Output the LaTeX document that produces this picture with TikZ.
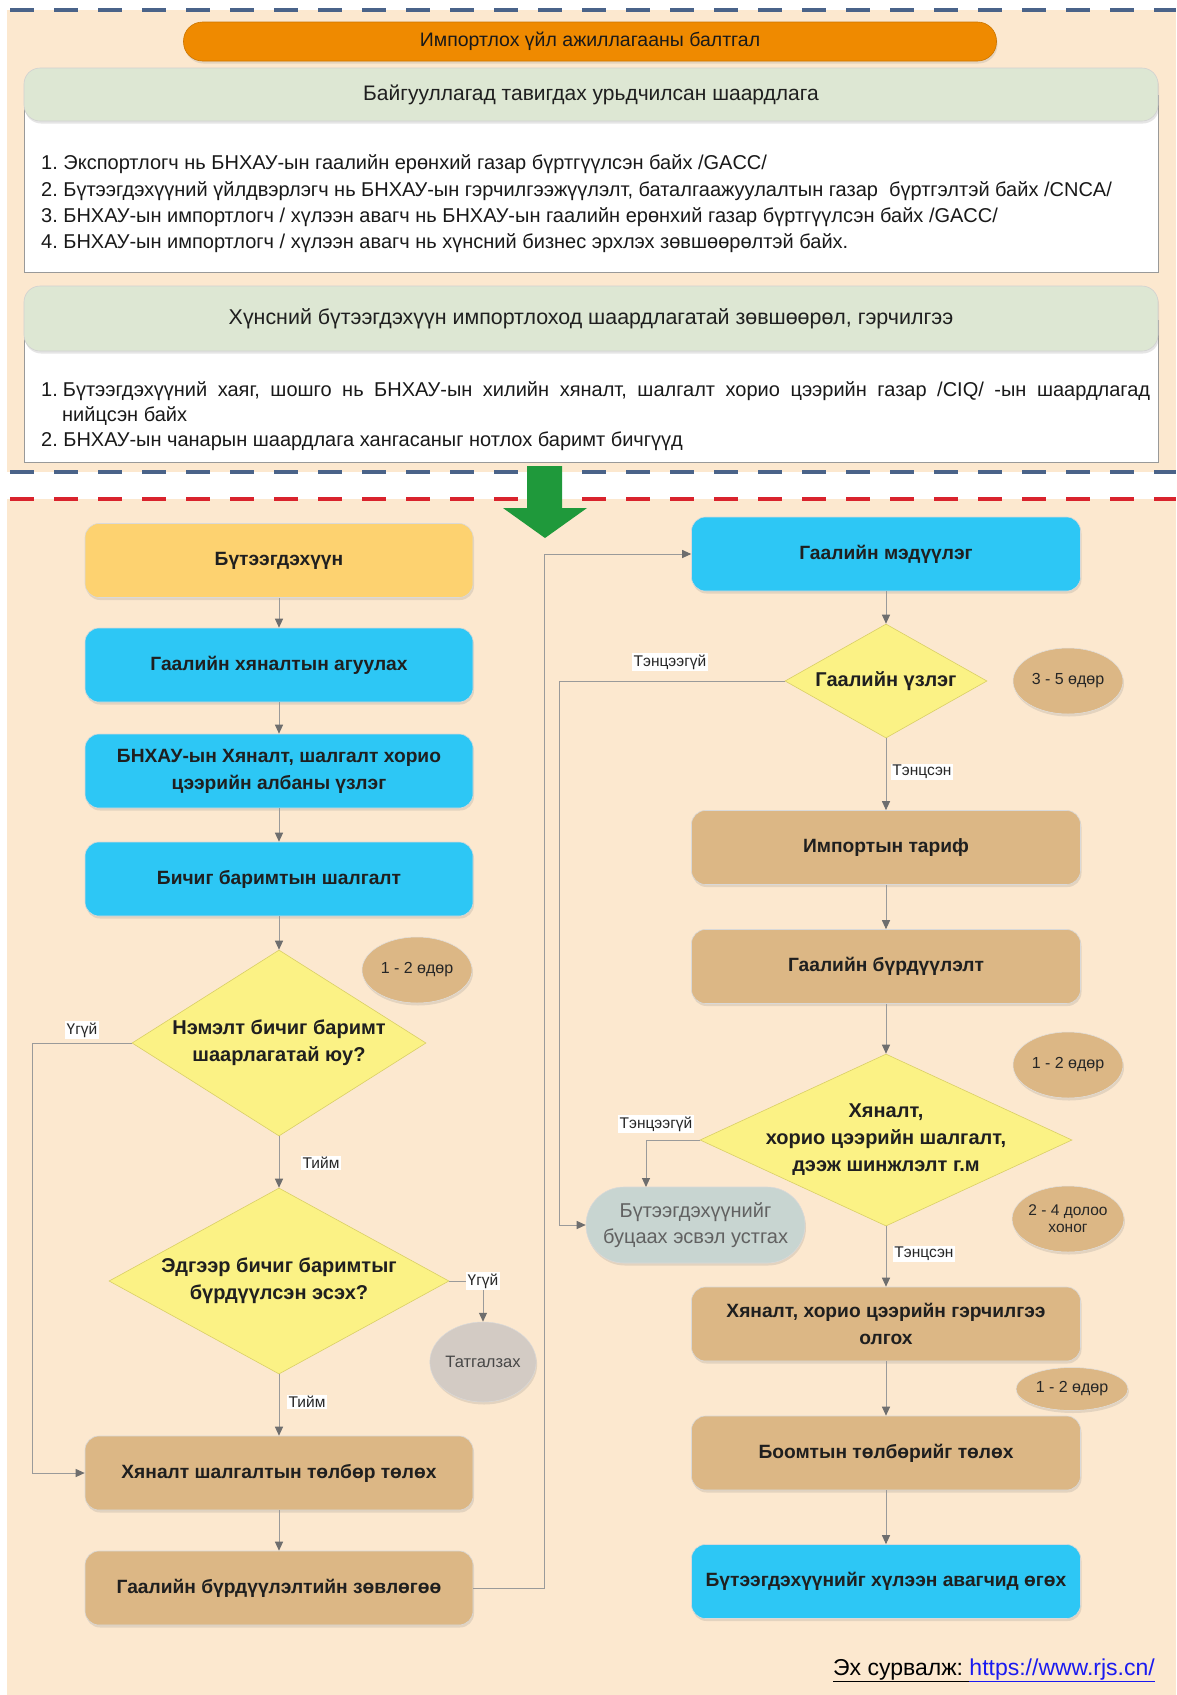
\documentclass[tikz,border=0pt]{standalone}
\usepackage{fontspec}
\setmainfont{Liberation Sans}
\usetikzlibrary{shapes.geometric,shadows,arrows.meta}
\frenchspacing
\definecolor{cpeach}{HTML}{FCE8CF}
\definecolor{corange}{HTML}{EF8A00}
\definecolor{cgreenh}{HTML}{DDE7D3}
\definecolor{cyel}{HTML}{FDD270}
\definecolor{cblue}{HTML}{2DC7F5}
\definecolor{ctan}{HTML}{DCB785}
\definecolor{cdia}{HTML}{FBF285}
\definecolor{cdiaB}{HTML}{D9CF66}
\definecolor{cret}{HTML}{C8D5D1}
\definecolor{ctat}{HTML}{D3CBC4}
\definecolor{cline}{HTML}{9A9A9A}
\definecolor{ctip}{HTML}{6E6E6E}
\definecolor{cdblue}{HTML}{4A6389}
\definecolor{cdred}{HTML}{D9232D}
\definecolor{carrow}{HTML}{1F993B}
\definecolor{clink}{HTML}{1A1AF0}
\newcommand\bxfont{\fontsize{19.2}{27}\selectfont\bfseries}
\newcommand\dfont{\fontsize{20}{27}\selectfont\bfseries}
\newcommand\lsfont{\fontsize{20}{24}\selectfont}
\newcommand\hdfont{\fontsize{21}{24}\selectfont}
\newcommand\ttlfont{\fontsize{19.5}{22}\selectfont}
\newcommand\ovfont{\fontsize{16}{18}\selectfont}
\newcommand\lbfont{\fontsize{15.5}{17}\selectfont}
\newcommand\ftfont{\fontsize{23}{26}\selectfont}
\begin{document}
\begin{tikzpicture}[x=1pt,y=-1pt,
  shd/.style={drop shadow={opacity=0.2,shadow xshift=1pt,shadow yshift=-2.5pt}},
  box/.style={rectangle,rounded corners=14pt,minimum width=388pt,minimum height=74pt,
    align=center,font=\bxfont,draw=black!15,line width=0.6pt,shd,text=black!88},
  bluebox/.style={box,fill=cblue},
  tanbox/.style={box,fill=ctan},
  yelbox/.style={box,fill=cyel},
  dia/.style={diamond,fill=cdia,draw=cdiaB,line width=0.6pt,inner sep=0pt},
  dtext/.style={align=center,font=\dfont,text=black!88},
  oval/.style={ellipse,fill=ctan,draw=black!12,line width=0.5pt,inner sep=0pt,
    font=\ovfont,align=center,shd,minimum width=110pt,minimum height=66pt,text=black!85},
  con/.style={draw=cline,line width=1pt,-{Triangle[length=9pt,width=8pt,color=ctip]}},
  lbl/.style={fill=white,inner sep=1.5pt,font=\lbfont,text=black!85},
  hdr/.style={rectangle,rounded corners=16pt,fill=cgreenh,draw=black!18,line width=0.6pt,
    minimum width=1134pt,minimum height=53pt,font=\hdfont,shd,text=black!88},
  wbox/.style={rectangle,fill=white,draw=black!40,line width=0.8pt,minimum width=1134pt},
  lst/.style={anchor=base west,font=\lsfont,inner sep=0pt,text=black!90}
]
\useasboundingbox (0,0) rectangle (1176,1695);
% backgrounds
\fill[white] (0,0) rectangle (1176,1695);
\fill[cpeach] (7,10) rectangle (1176,472);
\fill[cpeach] (7,499) rectangle (1176,1695);
% dashed separators
\draw[cdblue,line width=3.5pt,dash pattern=on 24pt off 20pt] (10,10) -- (1176,10);
\draw[cdblue,line width=3.5pt,dash pattern=on 24pt off 20pt] (10,472) -- (1176,472);
\draw[cdred,line width=3.5pt,dash pattern=on 24pt off 20pt] (10,499) -- (1176,499);

% top section
\node[rectangle,rounded corners=19pt,fill=corange,draw=corange!85!black,line width=0.6pt,
  minimum width=813pt,minimum height=39pt,font=\ttlfont,shd,text=black!90] (title) at (590,41.5)
  {Импортлох үйл ажиллагааны балтгал};

\node[wbox,minimum height=177pt] (wb1) at (591,183.5) {};
\node[hdr] (h1) at (591,94.5) {Байгууллагад тавигдах урьдчилсан шаардлага};
\node[lst] (l11) at (41,169) {1. Экспортлогч нь БНХАУ-ын гаалийн ерөнхий газар бүртгүүлсэн байх /GACC/};
\node[lst] (l12) at (41,196) {2. Бүтээгдэхүүний үйлдвэрлэгч нь БНХАУ-ын гэрчилгээжүүлэлт, баталгаажуулалтын газар\ \ бүртгэлтэй байх /CNCA/};
\node[lst] (l13) at (41,222) {3. БНХАУ-ын импортлогч / хүлээн авагч нь БНХАУ-ын гаалийн ерөнхий газар бүртгүүлсэн байх /GACC/};
\node[lst] (l14) at (41,248) {4. БНХАУ-ын импортлогч / хүлээн авагч нь хүнсний бизнес эрхлэх зөвшөөрөлтэй байх.};

\node[wbox,minimum height=142pt] (wb2) at (591,391) {};
\node[hdr,minimum height=65pt,font=\fontsize{21.4}{24}\selectfont] (h2) at (591,318.5) {Хүнсний бүтээгдэхүүн импортлоход шаардлагатай зөвшөөрөл, гэрчилгээ};
\node[lst] (l21) at (41,396) {\makebox[1109pt][s]{1.\kern5pt Бүтээгдэхүүний хаяг, шошго нь БНХАУ-ын хилийн хяналт, шалгалт хорио цээрийн газар /CIQ/ -ын шаардлагад}};
\node[lst] (l21b) at (62,421) {нийцсэн байх};
\node[lst] (l22) at (41,446) {2. БНХАУ-ын чанарын шаардлага хангасаныг нотлох баримт бичгүүд};

% green arrow
\fill[carrow] (527,466) -- (562,466) -- (562,508) -- (587,508) -- (545,538) -- (503,508) -- (527,508) -- cycle;

% left column
\node[yelbox] (b1) at (279,560.5) {Бүтээгдэхүүн};
\node[bluebox] (b2) at (279,665) {Гаалийн хяналтын агуулах};
\node[bluebox] (b3) at (279,771) {БНХАУ-ын Хяналт, шалгалт хорио\\цээрийн албаны үзлэг};
\node[bluebox] (b4) at (279,879) {Бичиг баримтын шалгалт};
\node[dia,minimum width=294pt,minimum height=186pt] (d1) at (279,1043) {};
\node[dtext] (d1t) at (d1) {Нэмэлт бичиг баримт\\шаарлагатай юу?};
\node[oval] (o1) at (417,970) {1 - 2 өдөр};
\node[dia,minimum width=340pt,minimum height=186pt] (d2) at (279,1281) {};
\node[dtext] (d2t) at (d2) {Эдгээр бичиг баримтыг\\бүрдүүлсэн эсэх?};
\node[ellipse,fill=ctat,draw=black!15,line width=0.5pt,inner sep=0pt,minimum width=95pt,
  minimum height=80pt,font=\fontsize{16.5}{18}\selectfont,text=black!72,shd] (tat) at (483,1362) {Татгалзах};
\node[tanbox] (b5) at (279,1473) {Хяналт шалгалтын төлбөр төлөх};
\node[tanbox] (b6) at (279,1588) {Гаалийн бүрдүүлэлтийн зөвлөгөө};

% right column
\node[bluebox,minimum width=389pt] (r1) at (886,554) {Гаалийн мэдүүлэг};
\node[dia,minimum width=202pt,minimum height=114pt] (rd1) at (886,681) {};
\node[dtext] (rd1t) at (rd1) {Гаалийн үзлэг};
\node[oval] (o2) at (1068,681) {3 - 5 өдөр};
\node[tanbox,minimum width=389pt] (r2) at (886,847.5) {Импортын тариф};
\node[tanbox,minimum width=389pt] (r3) at (886,966.5) {Гаалийн бүрдүүлэлт};
\node[oval] (o3) at (1068,1065) {1 - 2 өдөр};
\node[dia,minimum width=372pt,minimum height=172pt] (rd2) at (886,1140) {};
\node[dtext] (rd2t) at (rd2) {Хяналт,\\хорио цээрийн шалгалт,\\дээж шинжлэлт г.м};
\node[rectangle,rounded corners=38pt,fill=cret,draw=black!15,line width=0.6pt,
  minimum width=219pt,minimum height=76pt,align=center,font=\fontsize{20}{26}\selectfont,text=black!62,shd]
  (ret) at (695.5,1225) {Бүтээгдэхүүнийг\\буцаах эсвэл устгах};
\node[oval,font=\fontsize{15.5}{17}\selectfont] (o4) at (1068,1219) {2 - 4 долоо\\хоног};
\node[tanbox,minimum width=389pt] (r4) at (886,1324) {Хяналт, хорио цээрийн гэрчилгээ\\олгох};
\node[oval,minimum width=112pt,minimum height=43pt] (o5) at (1072,1389) {1 - 2 өдөр};
\node[tanbox,minimum width=389pt] (r5) at (886,1453) {Боомтын төлбөрийг төлөх};
\node[bluebox,minimum width=389pt] (r6) at (886,1581.5) {Бүтээгдэхүүнийг хүлээн авагчид өгөх};

% connectors left
\draw[con] (b1) -- (b2);
\draw[con] (b2) -- (b3);
\draw[con] (b3) -- (b4);
\draw[con] (b4) -- (d1);
\draw[con] (d1) -- (d2);
\draw[con] (d1.west) -- (32,1043) |- (b5.west);
\draw[con] (d2.east) -| (tat.north);
\draw[con] (d2) -- (b5);
\draw[con] (b5) -- (b6);
\draw[con] (b6.east) -- (544,1588) |- (r1.west);

% connectors right
\draw[con] (r1) -- (rd1);
\draw[con] (rd1.west) -- (559,681) |- (ret.west);
\draw[con] (rd1) -- (r2);
\draw[con] (r2) -- (r3);
\draw[con] (r3) -- (rd2);
\coordinate (retin) at (646,1187);
\draw[con] (rd2.west) -| (retin);
\draw[con] (rd2) -- (r4);
\draw[con] (r4) -- (r5);
\draw[con] (r5) -- (r6);

% labels
\node[lbl] (lb1) at (82,1030) {Үгүй};
\node[lbl] (lb2) at (321,1163) {Тийм};
\node[lbl] (lb3) at (483,1281) {Үгүй};
\node[lbl] (lb4) at (307,1402) {Тийм};
\node[lbl] (lb5) at (670,662) {Тэнцээгүй};
\node[lbl] (lb6) at (922,772) {Тэнцсэн};
\node[lbl] (lb7) at (656,1124) {Тэнцээгүй};
\node[lbl] (lb8) at (924,1254) {Тэнцсэн};

% footer
\node[anchor=base east,font=\ftfont,inner sep=0pt] (src) at (1155,1675)
  {\underline{Эх сурвалж:\ }\textcolor{clink}{\underline{https://www.rjs.cn/}}};
\end{tikzpicture}
\end{document}
